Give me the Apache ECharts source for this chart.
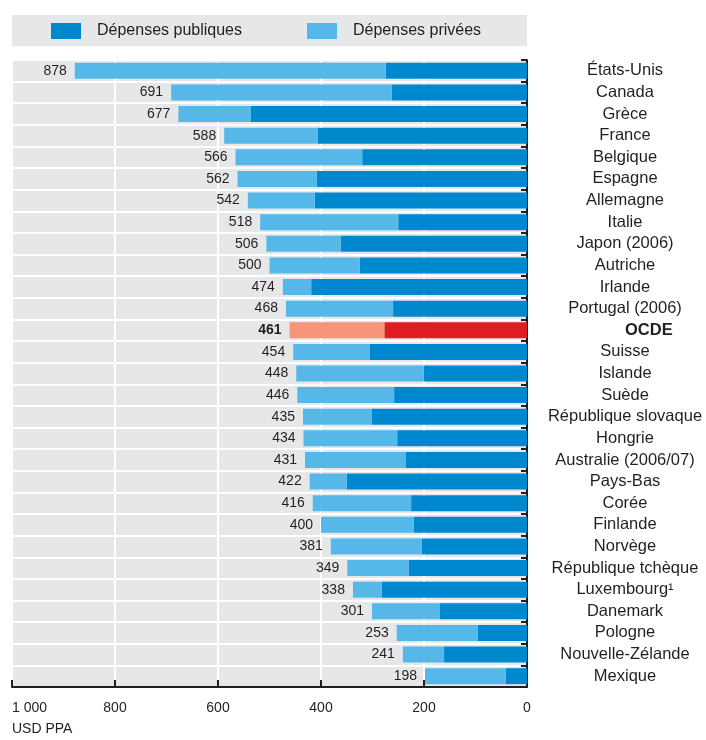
<!DOCTYPE html>
<html>
<head>
<meta charset="utf-8">
<script src="https://cdn.jsdelivr.net/npm/echarts@6/dist/echarts.min.js"></script>
<style>
html,body{margin:0;padding:0;background:#fff;}
#chart{width:706px;height:740px;}
</style>
</head>
<body>
<div id="chart"></div>
<script>
const categories = ['États-Unis','Canada','Grèce','France','Belgique','Espagne','Allemagne','Italie','Japon (2006)','Autriche','Irlande','Portugal (2006)','OCDE','Suisse','Islande','Suède','République slovaque','Hongrie','Australie (2006/07)','Pays-Bas','Corée','Finlande','Norvège','République tchèque','Luxembourg¹','Danemark','Pologne','Nouvelle-Zélande','Mexique'];
const publicVals = [274,263,536,406,320,408,412,250,362,325,419,260,277,306,201,258,301,252,236,350,225,220,204,230,282,169,96,161,41];
const privateVals = [604,428,141,182,246,154,130,268,144,175,55,208,184,148,247,188,134,182,195,72,191,180,177,119,56,132,157,80,157];
const totals = [878,691,677,588,566,562,542,518,506,500,474,468,461,454,448,446,435,434,431,422,416,400,381,349,338,301,253,241,198];
const xTicks = [0,200,400,600,800,1000];

const highlight = 'OCDE';
const C_PUB = '#0088CF', C_PRIV = '#55B8E9', C_PUB_H = '#E11B22', C_PRIV_H = '#F59679';
const FONT = '"Liberation Sans", Arial, sans-serif';
const TXT = '#231F20';

const chart = echarts.init(document.getElementById('chart'), null, {renderer:'canvas'});

const pubData = publicVals.map((v,i)=> categories[i]===highlight ? {value:v,itemStyle:{color:C_PUB_H}} : v);
const privData = privateVals.map((v,i)=> categories[i]===highlight ? {value:v,itemStyle:{color:C_PRIV_H},label:{fontWeight:'bold'}} : v);

chart.setOption({
  animation:false,
  textStyle:{fontFamily:FONT},
  graphic:[
    {type:'rect', z:-10, shape:{x:12,y:15,width:515,height:31}, style:{fill:'#E6E7E8'}},
    {type:'text', left:12, top:722, style:{text:'USD PPA', fill:TXT, font:'14px '+FONT}}
  ],
  legend:[
    {data:['Dépenses publiques'], left:51, top:23, padding:0, itemWidth:30, itemHeight:16, z:10,
     icon:'rect', textStyle:{fontSize:16, color:TXT, fontFamily:FONT, padding:[0,0,0,11]}},
    {data:['Dépenses privées'], left:307, top:23, padding:0, itemWidth:30, itemHeight:16, z:10,
     icon:'rect', textStyle:{fontSize:16, color:TXT, fontFamily:FONT, padding:[0,0,0,11]}}
  ],
  grid:{left:12, right:179, top:60, bottom:53, show:true, backgroundColor:'#E6E7E8', borderWidth:0, containLabel:false},
  xAxis:{
    type:'value', min:xTicks[0], max:xTicks[xTicks.length-1], interval:200, inverse:true,
    axisLine:{show:true, lineStyle:{color:TXT, width:2}},
    axisTick:{show:true, inside:true, length:7, lineStyle:{color:TXT, width:2}},
    axisLabel:{color:TXT, fontSize:14, margin:14, fontFamily:FONT,
      formatter:v=> v===1000 ? '1 000' : String(v), alignMaxLabel:'left'},
    splitLine:{show:true, lineStyle:{color:'#ffffff', width:2}}
  },
  yAxis:{
    type:'category', inverse:true, position:'right',
    data:categories.map(c=> c===highlight ? {value:c, textStyle:{fontWeight:'bold'}} : c),
    axisLine:{show:true, onZero:false, lineStyle:{color:TXT, width:2}},
    axisTick:{show:true, inside:true, length:6, interval:0, lineStyle:{color:TXT, width:2}},
    axisLabel:{color:TXT, fontSize:16.5, align:'center', margin:98, interval:0, hideOverlap:false, fontFamily:FONT},
    splitLine:{show:true, interval:0, lineStyle:{color:'#ffffff', width:2}}
  },
  series:[
    {name:'Dépenses publiques', type:'bar', stack:'t', data:pubData, barWidth:16,
     itemStyle:{color:C_PUB}},
    {name:'Dépenses privées', type:'bar', stack:'t', data:privData, barWidth:16,
     itemStyle:{color:C_PRIV},
     label:{show:true, position:'left', distance:8, color:TXT, fontSize:14, fontFamily:FONT,
       formatter:p=> String(totals[p.dataIndex])}}
  ]
});
</script>
</body>
</html>
